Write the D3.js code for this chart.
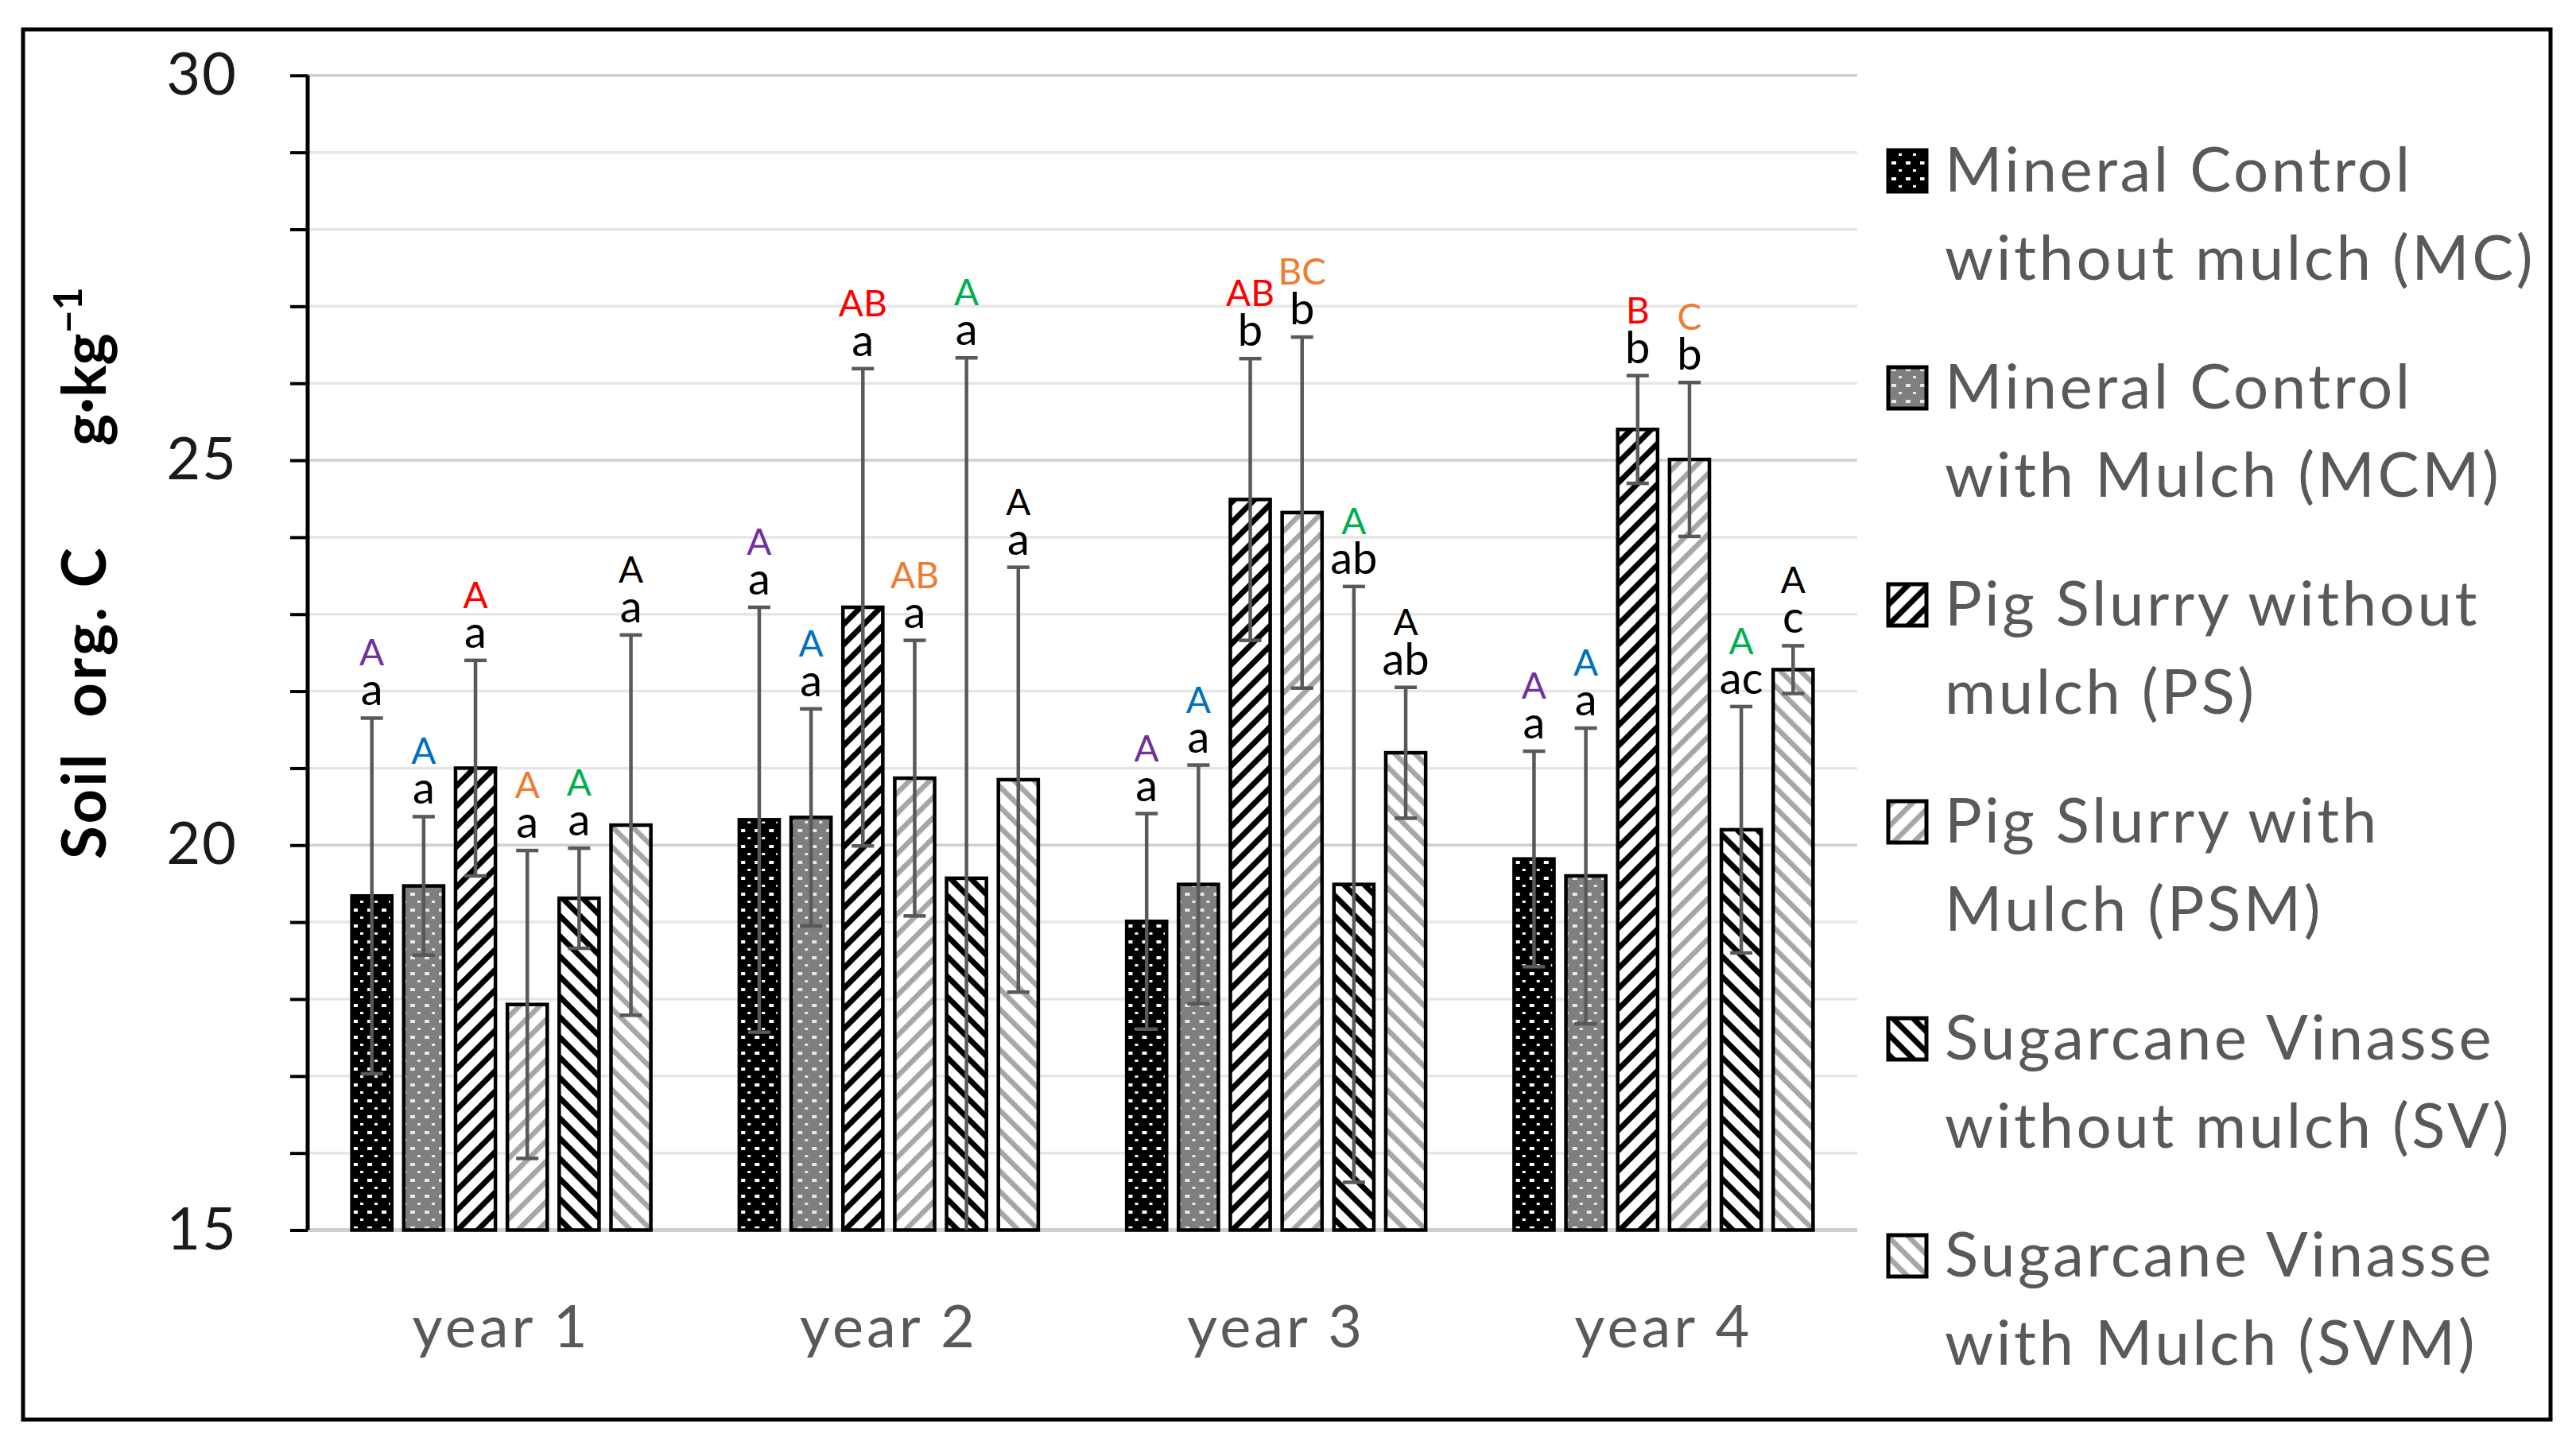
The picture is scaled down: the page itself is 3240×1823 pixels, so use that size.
<!DOCTYPE html>
<html>
<head>
<meta charset="utf-8">
<script src="https://cdn.jsdelivr.net/npm/d3@7"></script>
<style>
  body { margin: 0; background: #fff; }
  text { font-family: Lato, "Open Sans", sans-serif; }
</style>
</head>
<body>
<div id="chart"></div>
<script>
// data
const years = ['year 1', 'year 2', 'year 3', 'year 4'];
const seriesKeys = ['MC', 'MCM', 'PS', 'PSM', 'SV', 'SVM'];
const legendLines = [
    ['Mineral Control', 'without mulch (MC)'],
    ['Mineral Control', 'with Mulch (MCM)'],
    ['Pig Slurry without', 'mulch (PS)'],
    ['Pig Slurry with', 'Mulch (PSM)'],
    ['Sugarcane Vinasse', 'without mulch (SV)'],
    ['Sugarcane Vinasse', 'with Mulch (SVM)']
];
const mcMean  = [19.34, 20.33, 19.01, 19.82];
const mcmMean = [19.47, 20.36, 19.49, 19.60];
const psMean  = [21.00, 23.09, 24.49, 25.40];
const psmMean = [17.93, 20.87, 24.32, 25.01];
const svMean  = [19.31, 19.57, 19.49, 20.20];
const svmMean = [20.26, 20.85, 21.20, 22.28];

const mcErr  = [2.31, 2.76, 1.40, 1.40];
const mcmErr = [0.90, 1.41, 1.55, 1.92];
const psErr  = [1.40, 3.10, 1.83, 0.70];
const psmErr = [2.00, 1.79, 2.28, 1.00];
const svErr  = [0.65, 6.76, 3.87, 1.60];
const svmErr = [2.47, 2.76, 0.85, 0.31];

const mcLow  = ['a', 'a', 'a', 'a'];
const mcmLow = ['a', 'a', 'a', 'a'];
const psLow  = ['a', 'a', 'b', 'b'];
const psmLow = ['a', 'a', 'b', 'b'];
const svLow  = ['a', 'a', 'ab', 'ac'];
const svmLow = ['a', 'a', 'ab', 'c'];

const mcUp  = ['A', 'A', 'A', 'A'];
const mcmUp = ['A', 'A', 'A', 'A'];
const psUp  = ['A', 'AB', 'AB', 'B'];
const psmUp = ['A', 'AB', 'BC', 'C'];
const svUp  = ['A', 'A', 'A', 'A'];
const svmUp = ['A', 'A', 'A', 'A'];

const upColors = ['#7030A0', '#0070C0', '#FF0000', '#ED7D31', '#00B050', '#000000'];
const yTicks = d3.range(15, 31);

const means = [mcMean, mcmMean, psMean, psmMean, svMean, svmMean];
const errs = [mcErr, mcmErr, psErr, psmErr, svErr, svmErr];
const lows = [mcLow, mcmLow, psLow, psmLow, svLow, svmLow];
const ups = [mcUp, mcmUp, psUp, psmUp, svUp, svmUp];

const rows = [];
years.forEach((yr, i) => {
    seriesKeys.forEach((k, j) => {
        rows.push({year: yr, key: k, idx: j, value: means[j][i], err: errs[j][i],
                   low: lows[j][i], up: ups[j][i]});
    });
});

const W = 3240, H = 1823;
const plot = {left: 387, right: 2336, top: 94.8, bottom: 1547.5};

const svg = d3.select('#chart').append('svg')
    .attr('width', W).attr('height', H);

// patterns
const defs = svg.append('defs');
function dotPattern(id, bg, dot) {
    const p = defs.append('pattern').attr('id', id)
        .attr('patternUnits', 'userSpaceOnUse').attr('width', 18).attr('height', 20);
    p.append('rect').attr('width', 18).attr('height', 20).attr('fill', bg);
    p.append('rect').attr('x', 3).attr('y', 3).attr('width', 6).attr('height', 4).attr('fill', dot);
    p.append('rect').attr('x', 12).attr('y', 13).attr('width', 4).attr('height', 3).attr('fill', dot);
}
function stripePattern(id, color, angle, sw) {
    const p = defs.append('pattern').attr('id', id)
        .attr('patternUnits', 'userSpaceOnUse').attr('width', 18).attr('height', 18)
        .attr('patternTransform', `rotate(${angle})`);
    p.append('rect').attr('width', 18).attr('height', 18).attr('fill', '#fff');
    p.append('rect').attr('x', 0).attr('y', 0).attr('width', sw).attr('height', 18).attr('fill', color);
}
dotPattern('pMC', '#000', '#fff');
dotPattern('pMCM', '#7f7f7f', '#e8e8e8');
stripePattern('pPS', '#000', 45, 7);
stripePattern('pPSM', '#a6a6a6', 45, 6.5);
stripePattern('pSV', '#000', -45, 7);
stripePattern('pSVM', '#a6a6a6', -45, 6.5);

// frame
svg.append('rect')
    .attr('x', 29).attr('y', 37).attr('width', 3208 - 29).attr('height', 1786 - 37)
    .attr('fill', 'none').attr('stroke', '#000').attr('stroke-width', 5);

const y = d3.scaleLinear().domain([15, 30]).range([plot.bottom, plot.top]);
const x0 = d3.scaleBand().domain(years).range([plot.left, plot.right]).padding(0);
const half = 189;
const x1 = d3.scaleBand().domain(seriesKeys)
    .range([x0.bandwidth() / 2 - half, x0.bandwidth() / 2 + half]).paddingInner(0.2);

// grid
svg.append('g')
    .selectAll('line')
    .data(yTicks)
    .enter()
    .append('line')
    .attr('x1', plot.left).attr('x2', plot.right)
    .attr('y1', d => y(d)).attr('y2', d => y(d))
    .attr('stroke', d => d % 5 === 0 ? '#cfcfcf' : '#e6e6e6')
    .attr('stroke-width', d => d === 15 ? 5 : 3.5);

// y axis
const yAxis = svg.append('g')
    .attr('transform', `translate(${plot.left},0)`)
    .call(d3.axisLeft(y).tickValues(yTicks).tickSize(22).tickPadding(66)
        .tickFormat(d => d % 5 === 0 ? d : ''));
yAxis.select('.domain').attr('stroke', '#000').attr('stroke-width', 5)
    .attr('d', `M0,${plot.top}V${plot.bottom}`);
yAxis.selectAll('.tick line').attr('stroke', '#000').attr('stroke-width', 4);
yAxis.selectAll('.tick text')
    .attr('fill', '#1a1a1a')
    .style('font-size', '74px')
    .style('letter-spacing', '2px')
    .style('font-family', 'Lato, sans-serif');

// y title
svg.append('text')
    .attr('transform', 'translate(133,1081) rotate(-90)')
    .attr('text-anchor', 'start')
    .attr('fill', '#000')
    .style('font-size', '76px')
    .style('font-weight', 'bold')
    .style('white-space', 'pre')
    .style('letter-spacing', '3px')
    .text('Soil  org. C');
const unit = svg.append('text')
    .attr('transform', 'translate(133,561) rotate(-90)')
    .attr('text-anchor', 'start')
    .attr('fill', '#000')
    .style('font-size', '76px')
    .style('font-weight', 'bold');
unit.append('tspan').text('g·kg');
unit.append('tspan').attr('dy', -30).style('font-size', '50px').text('−1');

// x labels
svg.append('g')
    .selectAll('text')
    .data(years)
    .enter()
    .append('text')
    .attr('x', d => x0(d) + x0.bandwidth() / 2)
    .attr('y', 1695)
    .attr('text-anchor', 'middle')
    .attr('fill', '#595959')
    .style('font-size', '74px')
    .style('letter-spacing', '4px')
    .text(d => d);

// bars
const groups = svg.append('g')
    .selectAll('g')
    .data(years)
    .enter()
    .append('g')
    .attr('transform', d => `translate(${x0(d)},0)`);

const bars = groups.selectAll('g.bar')
    .data(yr => rows.filter(r => r.year === yr))
    .enter()
    .append('g')
    .attr('class', 'bar');

bars.append('rect')
    .attr('x', d => x1(d.key) + 1)
    .attr('y', d => y(d.value))
    .attr('width', x1.bandwidth() - 2)
    .attr('height', d => y(15) - y(d.value))
    .attr('fill', d => `url(#p${d.key})`)
    .attr('stroke', '#000')
    .attr('stroke-width', 4.5);

// error bars
const cx = d => x1(d.key) + x1.bandwidth() / 2;
bars.append('line')
    .attr('x1', cx).attr('x2', cx)
    .attr('y1', d => y(d.value + d.err))
    .attr('y2', d => y(Math.max(15, d.value - d.err)))
    .attr('stroke', '#595959').attr('stroke-width', 4.5);
bars.append('line')
    .attr('x1', d => cx(d) - 14).attr('x2', d => cx(d) + 14)
    .attr('y1', d => y(d.value + d.err)).attr('y2', d => y(d.value + d.err))
    .attr('stroke', '#595959').attr('stroke-width', 4.5);
bars.filter(d => d.value - d.err > 15).append('line')
    .attr('x1', d => cx(d) - 14).attr('x2', d => cx(d) + 14)
    .attr('y1', d => y(d.value - d.err)).attr('y2', d => y(d.value - d.err))
    .attr('stroke', '#595959').attr('stroke-width', 4.5);

// letters: two-line label, upper letters coloured
const labels = bars.append('text')
    .attr('text-anchor', 'middle');
labels.append('tspan')
    .attr('x', cx)
    .attr('y', d => y(d.value + d.err) - 66)
    .attr('fill', d => upColors[d.idx])
    .style('font-size', '46px')
    .text(d => d.up);
labels.append('tspan')
    .attr('x', cx)
    .attr('y', d => y(d.value + d.err) - 16)
    .attr('fill', '#000')
    .style('font-size', '56px')
    .text(d => d.low);

// legend
const legend = svg.append('g').attr('class', 'legend');
seriesKeys.forEach((k, i) => {
    const base = 241 + i * 273;
    const row = legend.append('g');
    row.append('rect')
        .attr('x', 2375).attr('y', base - 52)
        .attr('width', 48).attr('height', 52)
        .attr('fill', `url(#p${k})`)
        .attr('stroke', '#000').attr('stroke-width', 5);
    legendLines[i].forEach((line, j) => {
        row.append('text')
            .attr('x', 2446)
            .attr('y', base + j * 111)
            .attr('fill', '#595959')
            .style('font-size', '78px')
            .style('letter-spacing', '3.5px')
            .text(line);
    });
});
</script>
</body>
</html>
